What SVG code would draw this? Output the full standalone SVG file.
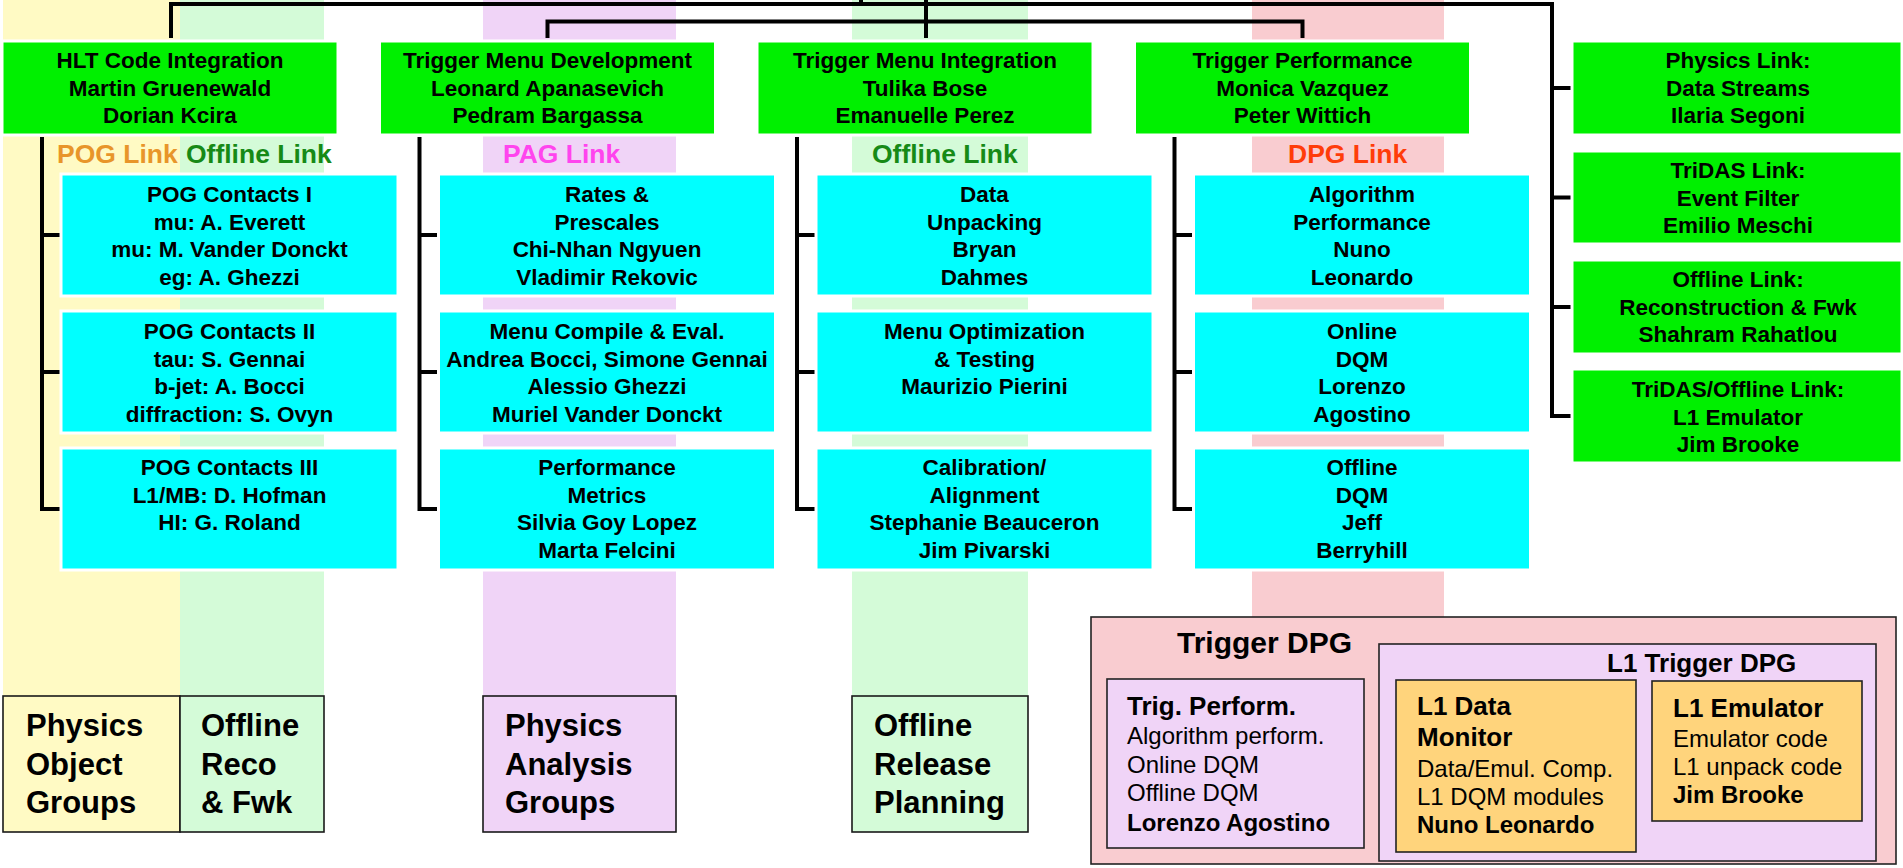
<svg xmlns="http://www.w3.org/2000/svg" width="1903" height="868" viewBox="0 0 1903 868">
  <style>
    text { font-family: "Liberation Sans", Arial, Helvetica, sans-serif; }
    .lead { fill: #00F000; stroke: #fff; stroke-width: 3; }
    .task { fill: #00FFFF; stroke: #fff; stroke-width: 3; }
    .bt { font-size: 22.5px; font-weight: bold; text-anchor: middle; fill: #000; }
    .lnk { font-size: 26.5px; font-weight: bold; }
    .grp { stroke: #1a1a1a; stroke-width: 1.6; }
    .gt { font-size: 31px; font-weight: bold; fill: #000; }
    .conn { fill: none; stroke: #000; stroke-width: 4; stroke-linecap: butt; stroke-linejoin: miter; }
    .frame { stroke: #222; stroke-width: 1.6; }
    .h { font-size: 26px; font-weight: bold; fill: #000; }
    .n { font-size: 24px; fill: #000; }
    .nb { font-size: 24px; font-weight: bold; fill: #000; }
  </style>

  <!-- coloured bands behind the columns -->
  <g id="bands">
    <rect x="3" y="0" width="177" height="696" fill="#FFFAC4"/>
    <rect x="180" y="0" width="144" height="696" fill="#D4FBD8"/>
    <rect x="483" y="0" width="193" height="696" fill="#F0D4F7"/>
    <rect x="852" y="0" width="176" height="696" fill="#D4FBD8"/>
    <rect x="1252" y="0" width="192" height="617" fill="#F9CCD0"/>
  </g>

  <!-- connector lines -->
  <g id="connectors" class="conn">
    <path d="M171 38 V4 H1552 V416 H1572"/>
    <path d="M1552 88 H1572 M1552 197.5 H1572 M1552 307 H1572"/>
    <path d="M861 0 V4 M926 0 V38"/>
    <path d="M547.5 38 V21.5 H1302.5 V38"/>
    <path d="M42 137 V509 H61 M42 235 H61 M42 372 H61"/>
    <path d="M419.5 137 V509 H438.5 M419.5 235 H438.5 M419.5 372 H438.5"/>
    <path d="M797 137 V509 H816 M797 235 H816 M797 372 H816"/>
    <path d="M1174.5 137 V509 H1193.5 M1174.5 235 H1193.5 M1174.5 372 H1193.5"/>
  </g>

  <!-- link labels -->
  <g id="link-labels" class="lnk">
    <text x="57" y="163" fill="#E8952A">POG Link</text>
    <text x="186" y="163" fill="#168A16">Offline Link</text>
    <text x="503" y="163" fill="#FF44EE">PAG Link</text>
    <text x="872" y="163" fill="#168A16">Offline Link</text>
    <text x="1288" y="163" fill="#FF3C0A">DPG Link</text>
  </g>

  <!-- column 1 -->
  <g id="hlt-code-integration">
    <rect class="lead" x="2" y="41" width="336" height="94"/>
    <text class="bt"><tspan x="170" y="68">HLT Code Integration</tspan><tspan x="170" y="95.5">Martin Gruenewald</tspan><tspan x="170" y="123">Dorian Kcira</tspan></text>
  </g>
  <g id="pog-contacts-1">
    <rect class="task" x="61" y="174" width="337" height="122"/>
    <text class="bt"><tspan x="229.5" y="202">POG Contacts I</tspan><tspan x="229.5" y="229.5">mu: A. Everett</tspan><tspan x="229.5" y="257">mu: M. Vander Donckt</tspan><tspan x="229.5" y="284.5">eg: A. Ghezzi</tspan></text>
  </g>
  <g id="pog-contacts-2">
    <rect class="task" x="61" y="311" width="337" height="122"/>
    <text class="bt"><tspan x="229.5" y="339">POG Contacts II</tspan><tspan x="229.5" y="366.5">tau: S. Gennai</tspan><tspan x="229.5" y="394">b-jet: A. Bocci</tspan><tspan x="229.5" y="421.5">diffraction: S. Ovyn</tspan></text>
  </g>
  <g id="pog-contacts-3">
    <rect class="task" x="61" y="448" width="337" height="122"/>
    <text class="bt"><tspan x="229.5" y="475">POG Contacts III</tspan><tspan x="229.5" y="502.5">L1/MB: D. Hofman</tspan><tspan x="229.5" y="530">HI: G. Roland</tspan></text>
  </g>

  <!-- column 2 -->
  <g id="trigger-menu-development">
    <rect class="lead" x="379.5" y="41" width="336" height="94"/>
    <text class="bt"><tspan x="547.5" y="68">Trigger Menu Development</tspan><tspan x="547.5" y="95.5">Leonard Apanasevich</tspan><tspan x="547.5" y="123">Pedram Bargassa</tspan></text>
  </g>
  <g id="rates-prescales">
    <rect class="task" x="438.5" y="174" width="337" height="122"/>
    <text class="bt"><tspan x="607" y="202">Rates &amp;</tspan><tspan x="607" y="229.5">Prescales</tspan><tspan x="607" y="257">Chi-Nhan Ngyuen</tspan><tspan x="607" y="284.5">Vladimir Rekovic</tspan></text>
  </g>
  <g id="menu-compile">
    <rect class="task" x="438.5" y="311" width="337" height="122"/>
    <text class="bt"><tspan x="607" y="339">Menu Compile &amp; Eval.</tspan><tspan x="607" y="366.5">Andrea Bocci, Simone Gennai</tspan><tspan x="607" y="394">Alessio Ghezzi</tspan><tspan x="607" y="421.5">Muriel Vander Donckt</tspan></text>
  </g>
  <g id="performance-metrics">
    <rect class="task" x="438.5" y="448" width="337" height="122"/>
    <text class="bt"><tspan x="607" y="475">Performance</tspan><tspan x="607" y="502.5">Metrics</tspan><tspan x="607" y="530">Silvia Goy Lopez</tspan><tspan x="607" y="557.5">Marta Felcini</tspan></text>
  </g>

  <!-- column 3 -->
  <g id="trigger-menu-integration">
    <rect class="lead" x="757" y="41" width="336" height="94"/>
    <text class="bt"><tspan x="925" y="68">Trigger Menu Integration</tspan><tspan x="925" y="95.5">Tulika Bose</tspan><tspan x="925" y="123">Emanuelle Perez</tspan></text>
  </g>
  <g id="data-unpacking">
    <rect class="task" x="816" y="174" width="337" height="122"/>
    <text class="bt"><tspan x="984.5" y="202">Data</tspan><tspan x="984.5" y="229.5">Unpacking</tspan><tspan x="984.5" y="257">Bryan</tspan><tspan x="984.5" y="284.5">Dahmes</tspan></text>
  </g>
  <g id="menu-optimization">
    <rect class="task" x="816" y="311" width="337" height="122"/>
    <text class="bt"><tspan x="984.5" y="339">Menu Optimization</tspan><tspan x="984.5" y="366.5">&amp; Testing</tspan><tspan x="984.5" y="394">Maurizio Pierini</tspan></text>
  </g>
  <g id="calibration-alignment">
    <rect class="task" x="816" y="448" width="337" height="122"/>
    <text class="bt"><tspan x="984.5" y="475">Calibration/</tspan><tspan x="984.5" y="502.5">Alignment</tspan><tspan x="984.5" y="530">Stephanie Beauceron</tspan><tspan x="984.5" y="557.5">Jim Pivarski</tspan></text>
  </g>

  <!-- column 4 -->
  <g id="trigger-performance">
    <rect class="lead" x="1134.5" y="41" width="336" height="94"/>
    <text class="bt"><tspan x="1302.5" y="68">Trigger Performance</tspan><tspan x="1302.5" y="95.5">Monica Vazquez</tspan><tspan x="1302.5" y="123">Peter Wittich</tspan></text>
  </g>
  <g id="algorithm-performance">
    <rect class="task" x="1193.5" y="174" width="337" height="122"/>
    <text class="bt"><tspan x="1362" y="202">Algorithm</tspan><tspan x="1362" y="229.5">Performance</tspan><tspan x="1362" y="257">Nuno</tspan><tspan x="1362" y="284.5">Leonardo</tspan></text>
  </g>
  <g id="online-dqm">
    <rect class="task" x="1193.5" y="311" width="337" height="122"/>
    <text class="bt"><tspan x="1362" y="339">Online</tspan><tspan x="1362" y="366.5">DQM</tspan><tspan x="1362" y="394">Lorenzo</tspan><tspan x="1362" y="421.5">Agostino</tspan></text>
  </g>
  <g id="offline-dqm">
    <rect class="task" x="1193.5" y="448" width="337" height="122"/>
    <text class="bt"><tspan x="1362" y="475">Offline</tspan><tspan x="1362" y="502.5">DQM</tspan><tspan x="1362" y="530">Jeff</tspan><tspan x="1362" y="557.5">Berryhill</tspan></text>
  </g>

  <!-- liaison boxes on the right -->
  <g id="physics-link">
    <rect class="lead" x="1572" y="41" width="330" height="94"/>
    <text class="bt"><tspan x="1738" y="68">Physics Link:</tspan><tspan x="1738" y="95.5">Data Streams</tspan><tspan x="1738" y="123">Ilaria Segoni</tspan></text>
  </g>
  <g id="tridas-link">
    <rect class="lead" x="1572" y="151" width="330" height="93"/>
    <text class="bt"><tspan x="1738" y="178">TriDAS Link:</tspan><tspan x="1738" y="205.5">Event Filter</tspan><tspan x="1738" y="233">Emilio Meschi</tspan></text>
  </g>
  <g id="offline-link">
    <rect class="lead" x="1572" y="260" width="330" height="94"/>
    <text class="bt"><tspan x="1738" y="287">Offline Link:</tspan><tspan x="1738" y="314.5">Reconstruction &amp; Fwk</tspan><tspan x="1738" y="342">Shahram Rahatlou</tspan></text>
  </g>
  <g id="tridas-offline-link">
    <rect class="lead" x="1572" y="369" width="330" height="94"/>
    <text class="bt"><tspan x="1738" y="397">TriDAS/Offline Link:</tspan><tspan x="1738" y="424.5">L1 Emulator</tspan><tspan x="1738" y="452">Jim Brooke</tspan></text>
  </g>

  <!-- groups at the foot of each band -->
  <g id="physics-object-groups">
    <rect class="grp" x="3" y="696" width="177" height="136" fill="#FFFAC4"/>
    <text class="gt"><tspan x="26" y="736">Physics</tspan><tspan x="26" y="774.5">Object</tspan><tspan x="26" y="813">Groups</tspan></text>
  </g>
  <g id="offline-reco-fwk">
    <rect class="grp" x="180" y="696" width="144" height="136" fill="#D4FBD8"/>
    <text class="gt"><tspan x="201" y="736">Offline</tspan><tspan x="201" y="774.5">Reco</tspan><tspan x="201" y="813">&amp; Fwk</tspan></text>
  </g>
  <g id="physics-analysis-groups">
    <rect class="grp" x="483" y="696" width="193" height="136" fill="#F0D4F7"/>
    <text class="gt"><tspan x="505" y="736">Physics</tspan><tspan x="505" y="774.5">Analysis</tspan><tspan x="505" y="813">Groups</tspan></text>
  </g>
  <g id="offline-release-planning">
    <rect class="grp" x="852" y="696" width="176" height="136" fill="#D4FBD8"/>
    <text class="gt"><tspan x="874" y="736">Offline</tspan><tspan x="874" y="774.5">Release</tspan><tspan x="874" y="813">Planning</tspan></text>
  </g>

  <!-- Trigger DPG structure -->
  <g id="trigger-dpg">
    <rect class="frame" x="1091" y="617" width="805" height="247" fill="#F9CCD0"/>
    <text x="1177" y="653" font-size="30" font-weight="bold">Trigger DPG</text>
  </g>
  <g id="trig-perform">
    <rect class="frame" x="1107" y="679" width="257" height="169" fill="#F0D4F7"/>
    <text class="h" x="1127" y="715">Trig. Perform.</text>
    <text class="n" x="1127" y="744">Algorithm perform.</text>
    <text class="n" x="1127" y="773">Online DQM</text>
    <text class="n" x="1127" y="801">Offline DQM</text>
    <text class="nb" x="1127" y="831">Lorenzo Agostino</text>
  </g>
  <g id="l1-trigger-dpg">
    <rect class="frame" x="1379" y="644" width="497" height="217" fill="#F0D4F7"/>
    <text class="h" x="1607" y="672">L1 Trigger DPG</text>
  </g>
  <g id="l1-data-monitor">
    <rect class="frame" x="1396" y="680" width="240" height="172" fill="#FFD47C"/>
    <text class="h" x="1417" y="715">L1 Data</text>
    <text class="h" x="1417" y="746">Monitor</text>
    <text class="n" x="1417" y="777">Data/Emul. Comp.</text>
    <text class="n" x="1417" y="805">L1 DQM modules</text>
    <text class="nb" x="1417" y="833">Nuno Leonardo</text>
  </g>
  <g id="l1-emulator">
    <rect class="frame" x="1652" y="681" width="210" height="140" fill="#FFD47C"/>
    <text class="h" x="1673" y="717">L1 Emulator</text>
    <text class="n" x="1673" y="747">Emulator code</text>
    <text class="n" x="1673" y="775">L1 unpack code</text>
    <text class="nb" x="1673" y="803">Jim Brooke</text>
  </g>
</svg>
